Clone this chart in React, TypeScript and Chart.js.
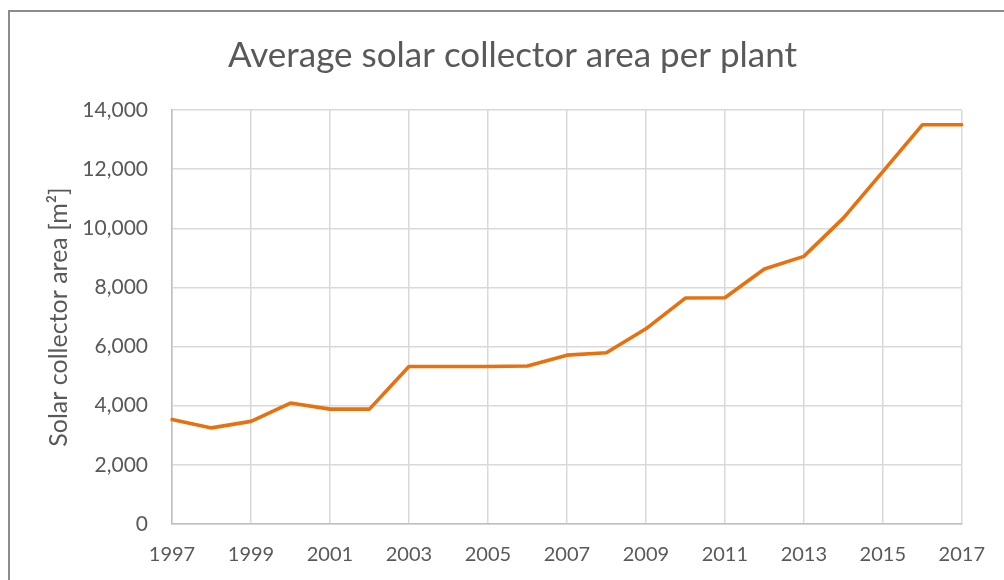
import React, { useEffect, useRef } from 'react';
import { Chart, registerables } from 'chart.js';

Chart.register(...registerables);

const CHART_TITLE = 'Average solar collector area per plant';
const Y_AXIS_TITLE = 'Solar collector area [m²]';

const years: string[] = [
  '1997', '1998', '1999', '2000', '2001', '2002', '2003', '2004', '2005', '2006', '2007',
  '2008', '2009', '2010', '2011', '2012', '2013', '2014', '2015', '2016', '2017',
];

const collectorArea: number[] = [
  3530, 3250, 3470, 4090, 3885, 3885, 5325, 5325, 5325, 5345, 5710,
  5790, 6600, 7640, 7650, 8625, 9050, 10345, 11915, 13500, 13500,
];

const yMin = 0;
const yMax = 14000;
const yStep = 2000;

const TEXT_COLOR = '#595959';
const GRID_COLOR = '#d9d9d9';
const AXIS_COLOR = '#bfbfbf';
const LINE_COLOR = '#e8710f';
const FONT_FAMILY = 'Lato, "Open Sans", sans-serif';

const titlePlugin = {
  id: 'centeredTitle',
  afterDraw(chart: any) {
    const ctx = chart.ctx;
    ctx.save();
    ctx.font = `35px ${FONT_FAMILY}`;
    ctx.fillStyle = TEXT_COLOR;
    ctx.textAlign = 'center';
    ctx.textBaseline = 'alphabetic';
    ctx.fillText(CHART_TITLE, 512.5, 67);
    ctx.restore();
  },
};

export default function App() {
  const canvasRef = useRef<HTMLCanvasElement | null>(null);

  useEffect(() => {
    if (!canvasRef.current) return;
    const chart = new Chart(canvasRef.current, {
      type: 'line',
      data: {
        labels: years,
        datasets: [
          {
            label: 'Average solar collector area',
            data: collectorArea,
            borderColor: LINE_COLOR,
            backgroundColor: LINE_COLOR,
            borderWidth: 3.6,
            pointRadius: 0,
            pointHoverRadius: 0,
            tension: 0,
            fill: false,
            borderCapStyle: 'round',
            borderJoinStyle: 'round',
          },
        ],
      },
      options: {
        animation: false,
        responsive: true,
        maintainAspectRatio: false,
        layout: { padding: { top: 110, right: 42, left: 0, bottom: 0 } },
        plugins: {
          legend: { display: false },
          title: { display: false },
          tooltip: { enabled: false },
        },
        scales: {
          x: {
            type: 'category',
            offset: false,
            afterFit: (s: any) => {
              s.height = 56;
            },
            grid: {
              drawTicks: false,
              lineWidth: 1.5,
              color: (c: any) => (c.index % 2 === 0 ? GRID_COLOR : 'rgba(0,0,0,0)'),
            },
            border: { color: AXIS_COLOR, width: 1.5 },
            ticks: {
              autoSkip: false,
              maxRotation: 0,
              minRotation: 0,
              padding: 19,
              color: TEXT_COLOR,
              font: { family: FONT_FAMILY, size: 20 },
              callback: (_v: any, i: number) => (i % 2 === 0 ? years[i] : ''),
            },
          },
          y: {
            min: yMin,
            max: yMax,
            afterFit: (s: any) => {
              s.width = 172;
            },
            grid: { drawTicks: false, lineWidth: 1.5, color: GRID_COLOR },
            border: { color: AXIS_COLOR, width: 1.5 },
            ticks: {
              stepSize: yStep,
              padding: 24,
              color: TEXT_COLOR,
              font: { family: FONT_FAMILY, size: 21 },
              callback: (v: any) => Number(v).toLocaleString('en-US'),
            },
            title: {
              display: true,
              text: Y_AXIS_TITLE,
              color: TEXT_COLOR,
              font: { family: FONT_FAMILY, size: 25 },
              padding: { top: 44, bottom: 0 },
            },
          },
        },
      },
      plugins: [titlePlugin],
    } as any);
    return () => chart.destroy();
  }, []);

  return (
    <div style={{ position: 'fixed', left: 0, top: 0, width: 1004, height: 580, background: '#fff' }}>
      <div
        style={{
          position: 'absolute',
          left: 8,
          top: 10,
          width: 996,
          height: 570,
          borderTop: '2px solid #8c8c8c',
          borderLeft: '2px solid #8c8c8c',
          boxSizing: 'border-box',
        }}
      />
      <div style={{ position: 'absolute', left: 0, top: 0, width: 1004, height: 580 }}>
        <canvas ref={canvasRef} />
      </div>
    </div>
  );
}
